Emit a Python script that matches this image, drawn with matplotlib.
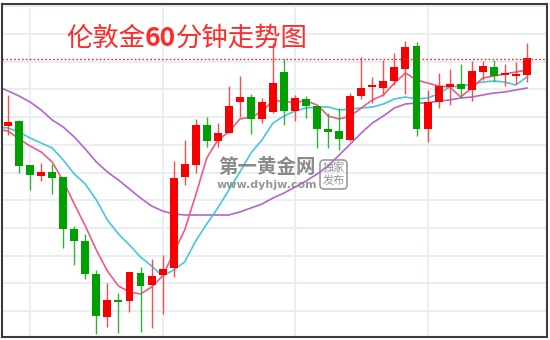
import matplotlib.pyplot as plt
import numpy as np
from matplotlib.patches import FancyBboxPatch

plt.rcParams['font.family'] = ['Noto Sans CJK SC', 'DejaVu Sans']

# 60分钟K线 (价格单位为图上相对高度)
opens = [195, 211, 216, 172, 161, 165, 160, 108, 96, 63, 20, 37, 36, 64, 52, 62, 69, 160,
         172, 212, 196, 204, 235, 240, 218, 225, 265, 226, 238, 231, 208, 206, 197, 241,
         250, 249, 256, 268, 291, 208, 235, 250, 253, 247, 265, 270, 262, 261, 262]
highs = [217, 242, 217, 172, 174, 173, 160, 111, 103, 67, 54, 44, 65, 70, 78, 82, 176, 197,
         218, 220, 214, 251, 261, 243, 239, 294, 278, 242, 241, 231, 224, 229, 244, 280,
         260, 277, 284, 296, 295, 247, 264, 268, 273, 276, 276, 277, 273, 275, 294]
lows = [191, 202, 164, 147, 156, 143, 89, 72, 58, 3, 10, 4, 25, 5, 9, 23, 60, 152,
        164, 190, 190, 204, 220, 203, 214, 224, 212, 216, 219, 189, 189, 187, 196, 238,
        234, 241, 252, 243, 201, 195, 229, 232, 239, 236, 257, 255, 251, 253, 255]
closes = [212, 215, 171, 162, 165, 159, 108, 96, 63, 21, 37, 35, 65, 51, 61, 68, 159, 173,
          212, 196, 204, 231, 240, 218, 235, 254, 226, 239, 231, 208, 205, 198, 241, 249,
          251, 256, 270, 290, 208, 235, 251, 253, 248, 266, 271, 261, 264, 263, 279]

ma_short = [208, 206, 198, 191, 185, 175, 156, 133, 111, 87, 66, 51, 45, 43, 50, 61, 84, 107,
            142, 179, 197, 205, 218, 220, 225, 237, 235, 235, 236, 232, 221, 218, 221, 229,
            237, 242, 254, 264, 257, 254, 251, 250, 240, 249, 259, 261, 263, 265, 267]
ma_mid = [210, 209, 205, 199, 194, 189, 177, 163, 153, 137, 117, 103, 92, 80, 71, 61, 67, 75,
          96, 113, 129, 147, 165, 184, 197, 214, 221, 226, 229, 230, 230, 227, 228, 229,
          230, 233, 238, 240, 238, 239, 243, 250, 251, 253, 255, 256, 255, 252, 260]
ma_long = [251, 246, 241, 235, 227, 217, 210, 200, 188, 175, 165, 157, 148, 139, 131, 126, 123, 122,
           122, 122, 122, 122, 125, 129, 133, 139, 144, 150, 156, 163, 171, 182, 193, 204,
           214, 221, 229, 233, 234, 234, 236, 237, 239, 240, 242, 244, 245, 247, 249]
resistance = 278.5

UP = '#f80000'
DOWN = '#00a000'

fig = plt.figure(figsize=(5.5, 3.4), dpi=100)
ax = fig.add_axes([2 / 550, 3 / 340, 545 / 550, 333 / 340])

x = np.arange(len(opens))
o = np.array(opens)
c = np.array(closes)
up = c >= o

# 网格
ax.set_xticks([3, 15, 27, 39])
ax.set_yticks(np.arange(26, 334, 27.7))
ax.grid(True, color='#e6edf3', linewidth=1.3)
ax.set_axisbelow(True)
ax.tick_params(length=0, labelbottom=False, labelleft=False)

# 均线
ax.plot(x, ma_long, color='#b463d2', linewidth=1.2, zorder=2)
ax.plot(x, ma_mid, color='#45c6dc', linewidth=1.2, zorder=2)
ax.plot(x, ma_short, color='#ee5a84', linewidth=1.2, zorder=2)

# K线
colors = [UP if u else DOWN for u in up]
wick_colors = ['#ff4a4a' if u else '#33b233' for u in up]
ax.vlines(x, lows, highs, colors=wick_colors, linewidth=1.0, zorder=3)
bottoms = np.minimum(o, c)
heights = np.maximum(np.abs(c - o), 2)
ax.bar(x, heights, bottom=bottoms, width=0.72, color=colors, linewidth=0, zorder=4)

ax.axhline(resistance, color='#ff2020', linestyle=(0, (1.2, 1.6)), linewidth=1.0, zorder=5)

ax.set_xlim(0.453, 49.82)
ax.set_ylim(0, 333)
for s in ax.spines.values():
    s.set_color('#3c3c3c')
    s.set_linewidth(1.5)

# 标题和水印
ov = fig.add_axes([0, 0, 1, 1], zorder=10)
ov.set_xlim(0, 550)
ov.set_ylim(340, 0)
ov.axis('off')

red = '#ff2a2a'
t1 = ov.text(66, 52, "伦敦金", fontsize=19, color=red, ha='left', va='bottom')
t2 = ov.annotate("60", xy=(1, 0), xycoords=t1, fontsize=19, color=red,
                 weight='bold', ha='left', va='bottom')
ov.annotate("分钟走势图", xy=(1, 0), xycoords=t2, fontsize=19, color=red,
            ha='left', va='bottom')

ov.text(267, 167.5, "第一黄金网", fontsize=14, weight='bold', color='#767676',
        alpha=0.85, ha='center', va='center')
ov.text(267, 185, "www.dyhjw.com", fontsize=8, weight='bold', color='#858585',
        alpha=0.85, ha='center', va='center', family='DejaVu Sans')
ov.add_patch(FancyBboxPatch((320, 160), 27, 29, boxstyle="round,pad=0,rounding_size=4",
                            ec='#8a8a8a', fc='none', lw=1.2, alpha=0.85))
ov.text(333.5, 167.5, "独家", fontsize=8, color='#858585', alpha=0.9, ha='center', va='center')
ov.text(333.5, 181, "发布", fontsize=8, color='#858585', alpha=0.9, ha='center', va='center')

fig.savefig("out.png", dpi=100)
